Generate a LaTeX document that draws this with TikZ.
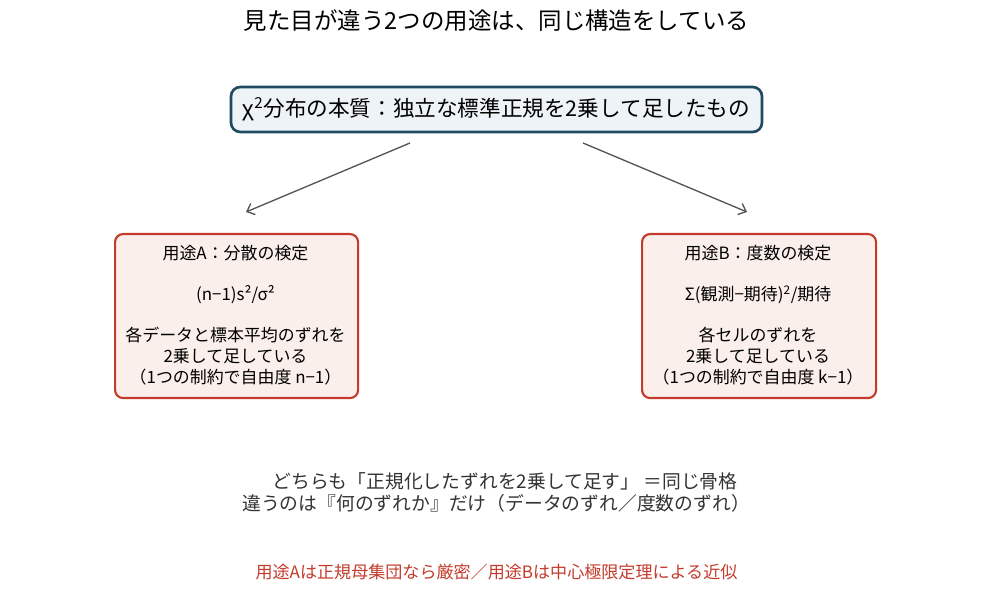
\documentclass[tikz,border=0pt]{standalone}
\usepackage{fontspec}
\usetikzlibrary{arrows.meta}
\setmainfont{Noto Sans CJK JP}
\begin{document}
\begin{tikzpicture}[x=0.75pt,y=-0.75pt,
  topbox/.style={draw=topborder,fill=topfill,line width=2pt,rounded corners=7pt,minimum width=531*0.75pt,minimum height=45*0.75pt,inner sep=0pt,font=\fontsize{16.2}{18}\selectfont},
  usebox/.style={draw=useborder,fill=usefill,line width=1.6pt,rounded corners=6pt,inner sep=0pt,anchor=north west},
  usetext/.style={font=\fontsize{12.7}{15.5}\selectfont,align=center,inner sep=0pt},
  sumtext/.style={text=graytext,inner sep=0pt,font=\fontsize{14.1}{16.5}\selectfont},
  conn/.style={draw=connc,line width=1pt,-{Straight Barb[length=5pt,width=9pt]}},
]
\definecolor{topborder}{HTML}{1F4A60}
\definecolor{topfill}{HTML}{EEF3F7}
\definecolor{useborder}{HTML}{C43B2B}
\definecolor{usefill}{HTML}{FBEFEC}
\definecolor{connc}{HTML}{555555}
\definecolor{redtext}{HTML}{C43B2B}
\definecolor{graytext}{HTML}{333333}
\useasboundingbox (0,0) rectangle (993,609);
\node[font=\fontsize{17.6}{20}\selectfont] (title) at (496.5,21) {見た目が違う2つの用途は、同じ構造をしている};
\node[topbox] (top) at (496.5,109.5) {χ\textsuperscript{2}分布の本質：独立な標準正規を2乗して足したもの};
\node[usebox,minimum width=243*0.75pt,minimum height=164*0.75pt] (a) at (114,233) {};
\node[usetext] (atext) at (235.5,315) {用途A：分散の検定\\ \\(n−1)s²/σ²\\ \\各データと標本平均のずれを\\2乗して足している\\（1つの制約で自由度 n−1）};
\node[usebox,minimum width=234*0.75pt,minimum height=164*0.75pt] (b) at (641,233) {};
\node[usetext] (btext) at (758,315) {用途B：度数の検定\\ \\Σ(観測−期待)\textsuperscript{2}/期待\\ \\各セルのずれを\\2乗して足している\\（1つの制約で自由度 k−1）};
\coordinate (la) at (410,143);
\coordinate (lb) at (246,212);
\coordinate (ra) at (583,143);
\coordinate (rb) at (747,212);
\draw[conn] (la) -- (lb);
\draw[conn] (ra) -- (rb);
\node[sumtext] (sum1) at (505,481) {どちらも「正規化したずれを2乗して足す」\hspace{3pt}＝同じ骨格};
\node[sumtext] (sum2) at (496,503) {違うのは『何のずれか』だけ（データのずれ／度数のずれ）};
\node[font=\fontsize{12.8}{14}\selectfont,text=redtext] (note) at (496.5,572) {用途Aは正規母集団なら厳密／用途Bは中心極限定理による近似};
\end{tikzpicture}
\end{document}
